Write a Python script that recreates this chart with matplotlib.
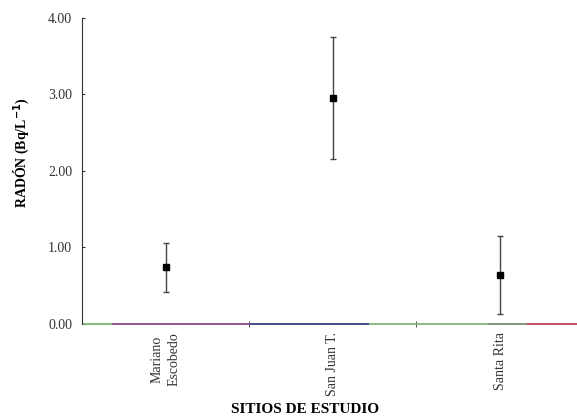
import matplotlib
matplotlib.use("Agg")
import matplotlib.pyplot as plt
from matplotlib.collections import LineCollection
import numpy as np

# Radon concentration per study site (mean and spread)
sites = ["Mariano\nEscobedo", "San Juan T.", "Santa Rita"]
radon_mean = [0.74, 2.95, 0.64]
radon_err = [0.32, 0.80, 0.51]
y_ticks = [0.0, 1.0, 2.0, 3.0, 4.0]

plt.rcParams['font.family'] = ['Liberation Serif', 'DejaVu Serif']

fig = plt.figure(figsize=(5.77, 4.18), dpi=100)
ax = fig.add_axes([0.142, 0.225, 0.858, 0.732])

x = np.arange(len(sites))
ax.errorbar(x, radon_mean, yerr=radon_err, fmt='s', color='black',
            ecolor='#444444', elinewidth=1.0, capsize=2, capthick=1.0,
            markersize=4, zorder=3)

ax.set_xlim(-0.5, 2.46)
ax.set_ylim(0, 4)
ax.set_yticks(y_ticks)
ax.set_yticklabels([f"{v:.2f}" for v in y_ticks], fontsize=10, color='#333333')
ax.set_xticks(x)
ax.set_xticklabels(sites, rotation=90, fontsize=10, linespacing=1.45, color='#333333')
ax.tick_params(axis='x', which='major', length=0, pad=6)
ax.set_xticks([0.5, 1.5], minor=True)
ax.tick_params(axis='x', which='minor', length=4, direction='inout', color='#333333')
ax.tick_params(axis='y', length=2, direction='in', color='#333333', pad=7)

ax.spines['top'].set_visible(False)
ax.spines['right'].set_visible(False)
ax.spines['left'].set_color('#333333')
ax.spines['bottom'].set_visible(False)

# zero line drawn in coloured pieces along the bottom
bounds = [0.0, 0.06, 0.34, 0.58, 0.82, 0.90, 1.0]
piece_colors = ['#7ab870', '#8a4a8a', '#3a3a80', '#80b878', '#7a8a7a', '#c04050']
segs = [[(bounds[i], 0), (bounds[i + 1], 0)] for i in range(len(piece_colors))]
ax.add_collection(LineCollection(segs, colors=piece_colors, linewidths=1.3,
                                 transform=ax.transAxes, clip_on=False))

ax.set_ylabel("RADÓN (Bq/L$^{\\mathbf{-1}}$)", fontsize=10, fontweight='bold')
ax.yaxis.set_label_coords(-0.10, 0.56)
ax.set_xlabel("SITIOS DE ESTUDIO", fontsize=11, fontweight='bold')
ax.xaxis.set_label_coords(0.45, -0.258)

fig.savefig("out.png", dpi=100)
